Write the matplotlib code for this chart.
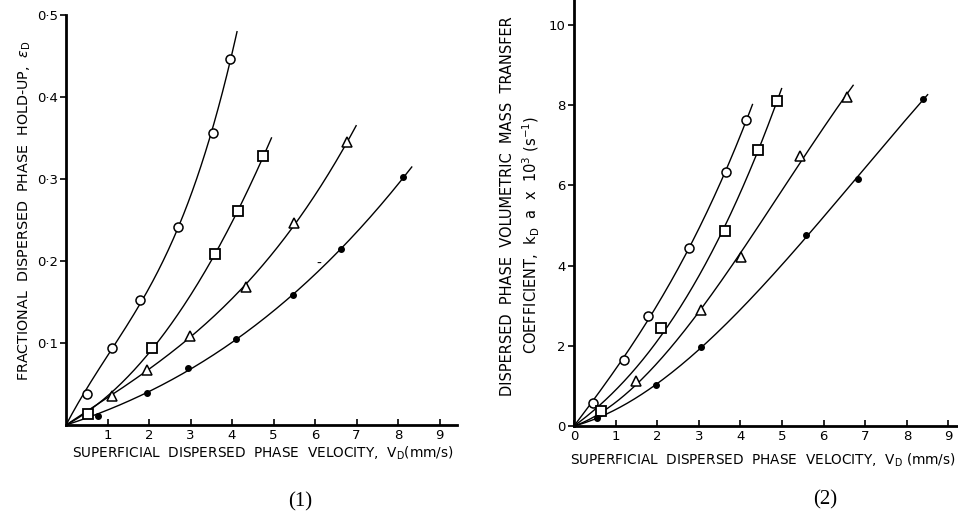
import numpy as np
import matplotlib
matplotlib.use('Agg')
from matplotlib import pyplot as plt

# ---- data ----
# (1) fractional dispersed phase hold-up vs superficial velocity
hold_circ_x = [0.50, 1.12, 1.78, 2.71, 3.53, 3.95]
hold_circ_y = [0.038, 0.094, 0.152, 0.242, 0.356, 0.446]
hold_sq_x = [0.52, 2.06, 3.59, 4.15, 4.75]
hold_sq_y = [0.013, 0.094, 0.208, 0.261, 0.328]
hold_tri_x = [1.10, 1.94, 2.99, 4.34, 5.49, 6.78]
hold_tri_y = [0.035, 0.067, 0.109, 0.168, 0.246, 0.345]
hold_dot_x = [0.76, 1.96, 2.95, 4.10, 5.48, 6.62, 8.13]
hold_dot_y = [0.011, 0.039, 0.069, 0.105, 0.158, 0.215, 0.302]
hold_ends = [4.12, 4.95, 6.99, 8.33]   # where each fitted curve stops

# (2) volumetric mass transfer coefficient kD a x 10^3 (1/s)
mtc_circ_x = [0.46, 1.19, 1.78, 2.76, 3.66, 4.13]
mtc_circ_y = [0.58, 1.65, 2.74, 4.43, 6.32, 7.63]
mtc_sq_x = [0.66, 2.10, 3.62, 4.42, 4.87]
mtc_sq_y = [0.37, 2.44, 4.85, 6.87, 8.09]
mtc_tri_x = [1.50, 3.06, 4.02, 5.43, 6.55]
mtc_tri_y = [1.13, 2.89, 4.21, 6.72, 8.20]
mtc_dot_x = [0.55, 1.98, 3.06, 5.57, 6.83, 8.39]
mtc_dot_y = [0.19, 1.02, 1.96, 4.76, 6.16, 8.15]
mtc_ends = [4.29, 4.99, 6.71, 8.50]

x_ticks = [1, 2, 3, 4, 5, 6, 7, 8, 9]
hold_ticks = [0.1, 0.2, 0.3, 0.4, 0.5]
hold_tick_labels = ['0·1', '0·2', '0·3', '0·4', '0·5']
mtc_ticks = [0, 2, 4, 6, 8, 10]

plt.rcParams['font.family'] = ['DejaVu Sans']
plt.rcParams['mathtext.fontset'] = 'dejavusans'

W, H = 958, 518
fig = plt.figure(figsize=(W / 100, H / 100), dpi=100)


def fx(px):
    return px / W


def fy(py):
    return 1 - py / H


def fit_curve(ax, xs, ys, xend):
    # least squares cubic through the origin
    xs = np.asarray(xs)
    ys = np.asarray(ys)
    A = np.vstack([xs, xs ** 2, xs ** 3]).T
    a, b, c = np.linalg.lstsq(A, ys, rcond=None)[0]
    xx = np.linspace(0, xend, 200)
    ax.plot(xx, a * xx + b * xx ** 2 + c * xx ** 3, color='black', lw=1.0, zorder=2)


def style_axes(ax):
    for s in ['top', 'right']:
        ax.spines[s].set_visible(False)
    for s in ['left', 'bottom']:
        ax.spines[s].set_linewidth(2.0)
    ax.tick_params(axis='x', direction='in', length=4, width=1.2, labelsize=9.5, pad=3)
    ax.tick_params(axis='y', direction='out', length=4, width=1.2, labelsize=9.5, pad=2)


def draw_series(ax, sets, ends):
    styles = [
        dict(marker='o', ms=6.5, mfc='white', mec='black', mew=1.1),
        dict(marker='s', ms=7, mfc='white', mec='black', mew=1.3),
        dict(marker='^', ms=7, mfc='white', mec='black', mew=1.1),
        dict(marker='o', ms=4, mfc='black', mec='black', mew=1.0),
    ]
    for (xs, ys), st, xe in zip(sets, styles, ends):
        fit_curve(ax, xs, ys, xe)
        ax.plot(xs, ys, ls='none', zorder=3, clip_on=False, **st)


# ---------- panel (1) ----------
ax1 = fig.add_axes([fx(66), fy(425), fx(457 - 66), (425 - 15) / H])
draw_series(ax1, [(hold_circ_x, hold_circ_y), (hold_sq_x, hold_sq_y),
                  (hold_tri_x, hold_tri_y), (hold_dot_x, hold_dot_y)], hold_ends)
ax1.set_xlim(0, 9.42)
ax1.set_ylim(0, 0.5)
ax1.set_xticks(x_ticks)
ax1.set_yticks(hold_ticks)
ax1.set_yticklabels(hold_tick_labels)
style_axes(ax1)
ax1.text(6.1, 0.196, '-', fontsize=10, ha='center', va='center')

fig.text(fx(263), fy(453), r'SUPERFICIAL  DISPERSED  PHASE  VELOCITY,  V$_{\mathrm{D}}$(mm/s)',
         ha='center', va='center', fontsize=9.8)
fig.text(fx(25), fy(211), r'FRACTIONAL  DISPERSED  PHASE  HOLD-UP,  $\varepsilon_{\mathrm{D}}$',
         ha='center', va='center', rotation=90, fontsize=10.3)
fig.text(fx(300), fy(502), '(1)', ha='center', va='center', fontsize=15,
         family=['Liberation Serif', 'DejaVu Serif'])

# ---------- panel (2) ----------
ax2 = fig.add_axes([fx(574), fy(426), fx(W - 574), 426 / H])
draw_series(ax2, [(mtc_circ_x, mtc_circ_y), (mtc_sq_x, mtc_sq_y),
                  (mtc_tri_x, mtc_tri_y), (mtc_dot_x, mtc_dot_y)], mtc_ends)
ax2.set_xlim(0, 9.23)
ax2.set_ylim(0, 10.62)
ax2.set_xticks([0] + x_ticks)
ax2.set_yticks(mtc_ticks)
style_axes(ax2)

fig.text(fx(763), fy(460), r'SUPERFICIAL  DISPERSED  PHASE  VELOCITY,  V$_{\mathrm{D}}$ (mm/s)',
         ha='center', va='center', fontsize=9.8)
fig.text(fx(508), fy(206), 'DISPERSED  PHASE  VOLUMETRIC  MASS  TRANSFER',
         ha='center', va='center', rotation=90, fontsize=10.5)
fig.text(fx(531), fy(235), r'COEFFICIENT,  k$_{\mathrm{D}}$  a  x  10$^{3}$ (s$^{-1}$)',
         ha='center', va='center', rotation=90, fontsize=10.5)
fig.text(fx(825), fy(500), '(2)', ha='center', va='center', fontsize=15,
         family=['Liberation Serif', 'DejaVu Serif'])

plt.savefig('out.png', dpi=100)
